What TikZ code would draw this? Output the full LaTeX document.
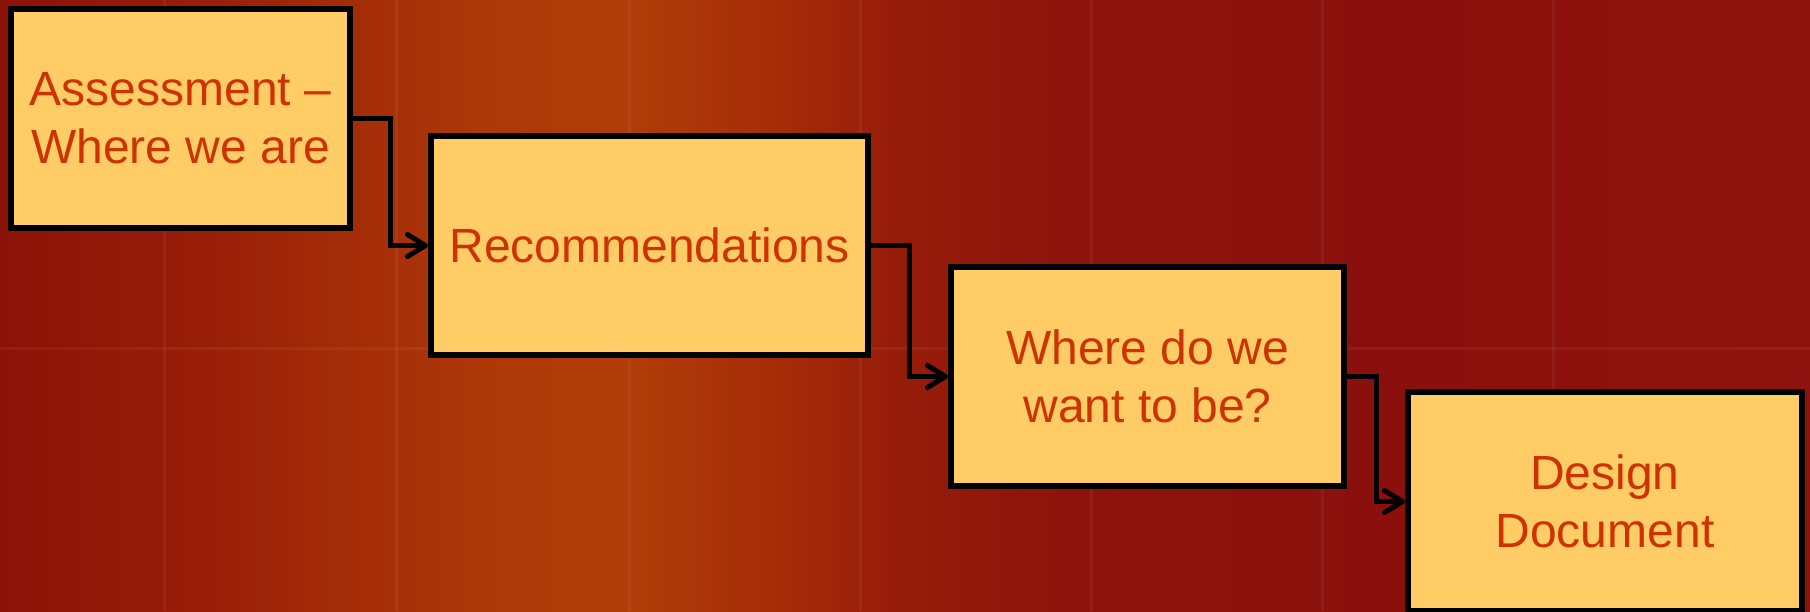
\documentclass[tikz,border=0pt]{standalone}
\usepackage{fontspec}
\setmainfont{Liberation Sans}
\usetikzlibrary{arrows.meta,calc}
\definecolor{boxfill}{HTML}{FFCC66}
\definecolor{txt}{HTML}{CC3300}
\definecolor{bgA}{HTML}{8C1208}
\definecolor{bgB}{HTML}{951B08}
\definecolor{bgC}{HTML}{A22B08}
\definecolor{bgD}{HTML}{AC3808}
\definecolor{bgE}{HTML}{B03D08}
\definecolor{bgF}{HTML}{A62F08}
\definecolor{bgG}{HTML}{961C0A}
\definecolor{bgH}{HTML}{8D130C}
\definecolor{bgI}{HTML}{8B100D}
\definecolor{bgJ}{HTML}{8E130E}
\begin{document}
\begin{tikzpicture}[x=0.5pt,y=-0.5pt,
  stage/.style={draw=black, fill=boxfill, line width=2.8pt, text=txt, align=center,
    font=\fontsize{24}{29}\selectfont, inner sep=0pt, minimum height=109.7pt},
  flow/.style={line width=2.5pt, -{Straight Barb[length=9pt,width=11pt,round]}},
  gridline/.style={white, opacity=0.05, line width=1.5pt}]
\clip (0,0) rectangle (1810,611);
% background
\fill[left color=bgA, right color=bgB] (0,0) rectangle (161,611);
\fill[left color=bgB, right color=bgC] (160,0) rectangle (331,611);
\fill[left color=bgC, right color=bgD] (330,0) rectangle (481,611);
\fill[left color=bgD, right color=bgE] (480,0) rectangle (621,611);
\fill[left color=bgE, right color=bgF] (620,0) rectangle (761,611);
\fill[left color=bgF, right color=bgG] (760,0) rectangle (901,611);
\fill[left color=bgG, right color=bgH] (900,0) rectangle (1061,611);
\fill[left color=bgH, right color=bgI] (1060,0) rectangle (1401,611);
\fill[left color=bgI, right color=bgJ] (1400,0) rectangle (1810,611);
\foreach \gx in {164,396,629,860,1091,1322,1553}
  \draw[gridline] (\gx,0) -- (\gx,611);
\draw[gridline] (0,348) -- (1810,348);
% stages
\node[stage, minimum width=169.7pt] (a) at (180.5,118.5) {Assessment –\\Where we are};
\node[stage, minimum width=218.7pt] (b) at (649.5,245.5) {Recommendations};
\node[stage, minimum width=196.7pt] (c) at (1147.5,376.5) {Where do we\\want to be?};
\node[stage, minimum width=197.2pt] (d) at (1605,501.5) {Design\\Document};
% connectors
\draw[flow] (a.east) -| ($(a.east)!0.5!(b.west)$) |- (b.west);
\draw[flow] (b.east) -| ($(b.east)!0.5!(c.west)$) |- (c.west);
\draw[flow] (c.east) -| ($(c.east)!0.5!(d.west)$) |- (d.west);
\end{tikzpicture}
\end{document}
